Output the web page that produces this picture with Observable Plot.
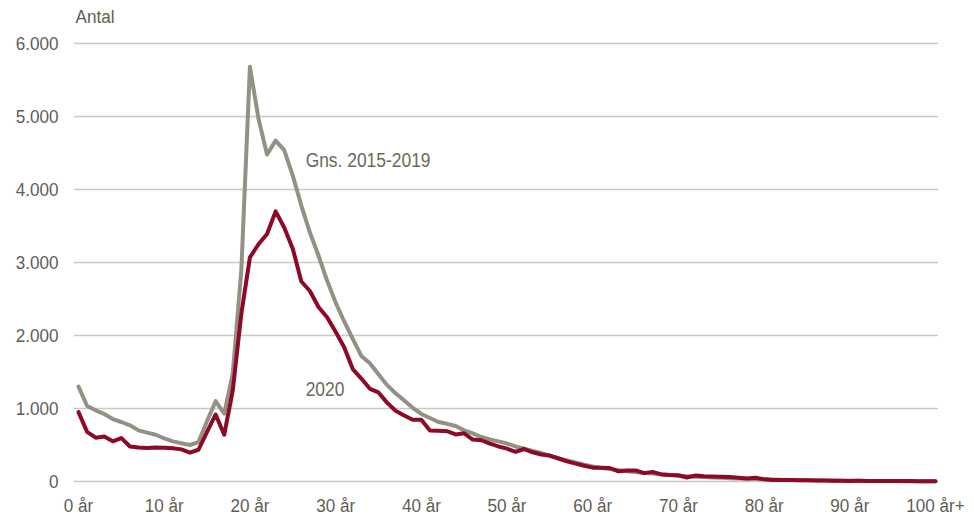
<!DOCTYPE html>
<html>
<head>
<meta charset="utf-8">
<script src="https://cdn.jsdelivr.net/npm/d3@7"></script>
<script src="https://cdn.jsdelivr.net/npm/@observablehq/plot@0.6"></script>
<style>
  html, body { margin: 0; padding: 0; background: #fff; }
  #chart svg { display: block; }
</style>
</head>
<body>
<div id="chart"></div>
<script>
const ages = d3.range(0, 101);
const seriesNames = ["Gns. 2015-2019", "2020"];
const avg2015_2019 = [
  1300, 1035, 975, 925, 855, 815, 770, 700, 670, 640,
  590, 550, 525, 500, 540, 830, 1100, 930, 1480, 2900,
  5680, 4970, 4480, 4670, 4540, 4190, 3780, 3410, 3096, 2753,
  2452, 2192, 1955, 1720, 1620, 1470, 1320, 1210, 1110, 1010,
  925, 870, 815, 790, 760, 700, 660, 610, 575, 550,
  520, 480, 450, 420, 390, 350, 320, 290, 260, 230,
  205, 185, 170, 155, 140, 130, 118, 108, 98, 90,
  80, 72, 66, 60, 55, 50, 46, 42, 38, 34,
  30, 27, 24, 22, 20, 18, 16, 14, 12, 11,
  10, 9, 8, 7, 7, 6, 5, 5, 4, 4, 3
];
const y2020 = [
  950, 680, 600, 615, 550, 595, 480, 465, 460, 465,
  462, 455, 440, 395, 435, 680, 918, 640, 1250, 2300,
  3070, 3250, 3390, 3700, 3480, 3190, 2740, 2610, 2390, 2250,
  2050, 1840, 1540, 1410, 1270, 1220, 1080, 970, 905, 845,
  845, 700, 695, 690, 645, 660, 575, 565, 520, 480,
  450, 405, 445, 400, 370, 355, 315, 275, 245, 215,
  190, 188, 185, 140, 150, 152, 115, 132, 97, 90,
  86, 55, 82, 72, 68, 65, 62, 52, 42, 52,
  30, 22, 20, 22, 16, 18, 14, 12, 10, 10,
  8, 9, 8, 8, 7, 7, 6, 6, 5, 5, 5
];
const xTicks = [0, 10, 20, 30, 40, 50, 60, 70, 80, 90, 100];
const xTickLabels = ["0 år", "10 år", "20 år", "30 år", "40 år", "50 år", "60 år", "70 år", "80 år", "90 år", "100 år+"];
const yTicks = [0, 1000, 2000, 3000, 4000, 5000, 6000];
const labelX = [26.5, 26.5];
const labelY = [4400, 1270];

const colors = ["#929184", "#8c0a26"];
const rows = [];
ages.forEach((a, i) => {
  rows.push({age: a, value: avg2015_2019[i], series: seriesNames[0]});
});
ages.forEach((a, i) => {
  rows.push({age: a, value: y2020[i], series: seriesNames[1]});
});
const labels = seriesNames.map((s, i) => ({series: s, x: labelX[i], y: labelY[i]}));

const fmt = d => d3.format(",")(d).replace(/,/g, ".");
const FONT = "'Liberation Sans', Arial, sans-serif";
const TEXT = "#5f5e54";

const chart = Plot.plot({
  width: 974,
  height: 515,
  marginLeft: 74,
  marginRight: 36,
  marginTop: 43,
  marginBottom: 34,
  style: {fontFamily: FONT, fontSize: "19px", color: TEXT, background: "#fff"},
  x: {domain: [-0.47, 100.35]},
  y: {domain: [0, 6000]},
  color: {domain: seriesNames, range: colors},
  marks: [
    Plot.gridY(yTicks, {stroke: "#cbc9bd", strokeOpacity: 1, strokeWidth: 1.5}),
    Plot.axisY(yTicks, {tickSize: 0, tickPadding: 16, tickFormat: fmt, label: null, fill: TEXT}),
    Plot.axisX(xTicks, {tickSize: 0, tickPadding: 17, tickFormat: (d, i) => xTickLabels[i], label: null, fill: TEXT}),
    Plot.text(["Antal"], {frameAnchor: "top-left", dx: 1, dy: -34, fill: TEXT, fontSize: 19}),
    Plot.line(rows, {x: "age", y: "value", z: "series", stroke: "series", strokeWidth: 4, strokeLinejoin: "round", strokeLinecap: "round"}),
    Plot.text(labels, {x: "x", y: "y", text: "series", textAnchor: "start", fill: "#6b6a60", fontSize: 21})
  ]
});
document.getElementById("chart").appendChild(chart);

// condense glyphs horizontally (the reference uses a narrow face)
for (const t of chart.querySelectorAll("text")) {
  const anchor = getComputedStyle(t).textAnchor;
  const r = t.getBoundingClientRect();
  const sx = anchor === "end" ? r.right : anchor === "middle" ? (r.left + r.right) / 2 : r.left;
  const pt = chart.createSVGPoint();
  pt.x = sx; pt.y = (r.top + r.bottom) / 2;
  const p = pt.matrixTransform(t.parentNode.getScreenCTM().inverse());
  const size = parseFloat(getComputedStyle(t).fontSize);
  const f = size >= 20 ? 0.83 : 0.9;
  const old = t.getAttribute("transform") || "";
  t.setAttribute("transform", `translate(${p.x},0) scale(${f},1) translate(${-p.x},0) ${old}`);
}
</script>
</body>
</html>
